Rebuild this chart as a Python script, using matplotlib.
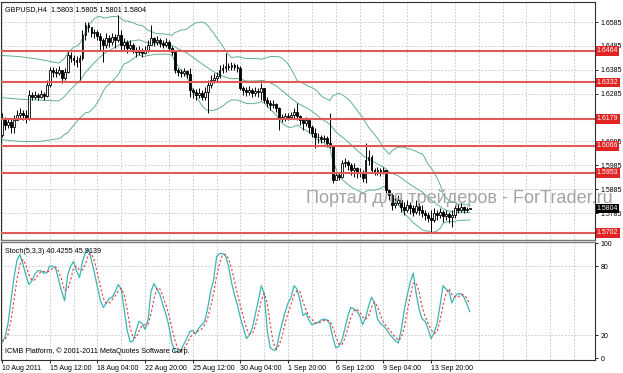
import numpy as np
import pandas as pd
import matplotlib
matplotlib.use("Agg")
import matplotlib.pyplot as plt
from matplotlib.transforms import blended_transform_factory

# GBPUSD H4 prices, stored in pips (1.6183 -> 16183)
first_open = 16112
closes = [
    16183, 16153, 16166, 16145, 16174, 16195, 16204, 16195, 16183, 16279,
    16271, 16279, 16271, 16283, 16275, 16321, 16384, 16375, 16371, 16384,
    16350, 16375, 16447, 16434, 16426, 16417, 16434, 16531, 16572, 16564,
    16539, 16543, 16526, 16510, 16489, 16518, 16501, 16522, 16510, 16531,
    16489, 16501, 16476, 16489, 16468, 16459, 16468, 16455, 16468, 16489,
    16518, 16501, 16510, 16497, 16489, 16501, 16476, 16459, 16384, 16375,
    16371, 16380, 16367, 16300, 16292, 16279, 16288, 16271, 16292, 16321,
    16342, 16350, 16359, 16384, 16392, 16401, 16396, 16405, 16396, 16392,
    16308, 16300, 16292, 16300, 16288, 16296, 16292, 16308, 16258, 16246,
    16237, 16242, 16225, 16187, 16183, 16191, 16187, 16195, 16208, 16191,
    16174, 16162, 16174, 16145, 16120, 16103, 16103, 16095, 16099, 16078,
    16070, 15923, 15944, 15936, 15994, 15998, 15986, 15965, 15973, 15952,
    15957, 15931, 16007, 16019, 15965, 15957, 15965, 15957, 15965, 15881,
    15860, 15818, 15827, 15839, 15810, 15797, 15818, 15806, 15789, 15814,
    15797, 15785, 15776, 15764, 15756, 15785, 15776, 15789, 15772, 15781,
    15768, 15776, 15806, 15797, 15810, 15797, 15803, 15804,
]
highs = [
    16204, 16187, 16183, 16183, 16195, 16216, 16225, 16216, 16216, 16300,
    16292, 16296, 16288, 16300, 16292, 16342, 16396, 16396, 16392, 16401,
    16384, 16392, 16468, 16459, 16447, 16443, 16447, 16551, 16585, 16585,
    16560, 16556, 16551, 16539, 16518, 16539, 16531, 16539, 16535, 16614,
    16551, 16518, 16510, 16510, 16497, 16480, 16484, 16476, 16484, 16510,
    16572, 16522, 16526, 16518, 16510, 16518, 16510, 16484, 16468, 16392,
    16388, 16392, 16384, 16392, 16308, 16304, 16308, 16300, 16313, 16342,
    16363, 16371, 16375, 16405, 16409, 16455, 16413, 16417, 16413, 16409,
    16401, 16317, 16313, 16317, 16308, 16313, 16308, 16329, 16308, 16271,
    16258, 16258, 16246, 16229, 16200, 16204, 16204, 16208, 16225, 16246,
    16195, 16183, 16187, 16166, 16153, 16141, 16120, 16112, 16112, 16107,
    16204, 16070, 15957, 15957, 16007, 16015, 16007, 15994, 15994, 15978,
    15973, 15965, 16078, 16049, 16028, 15973, 15978, 15973, 15978, 15965,
    15881, 15868, 15848, 15860, 15848, 15831, 15839, 15831, 15818, 15839,
    15827, 15818, 15797, 15789, 15797, 15806, 15797, 15806, 15797, 15797,
    15789, 15797, 15818, 15822, 15827, 15814, 15812, 15805,
]
lows = [
    16103, 16133, 16141, 16120, 16120, 16174, 16183, 16174, 16162, 16174,
    16258, 16262, 16258, 16267, 16258, 16271, 16313, 16355, 16355, 16363,
    16329, 16342, 16371, 16417, 16405, 16396, 16342, 16426, 16510, 16543,
    16522, 16518, 16510, 16468, 16417, 16476, 16480, 16489, 16476, 16501,
    16468, 16468, 16455, 16468, 16455, 16438, 16447, 16438, 16451, 16459,
    16497, 16484, 16489, 16480, 16476, 16480, 16468, 16447, 16371, 16359,
    16355, 16359, 16350, 16271, 16267, 16258, 16267, 16258, 16258, 16204,
    16308, 16329, 16334, 16350, 16371, 16375, 16384, 16384, 16384, 16375,
    16300, 16279, 16275, 16279, 16271, 16275, 16271, 16258, 16246, 16229,
    16216, 16225, 16208, 16133, 16166, 16170, 16174, 16179, 16183, 16174,
    16153, 16133, 16149, 16120, 16103, 16057, 16078, 16078, 16082, 16061,
    16057, 15910, 15923, 15923, 15931, 15978, 15965, 15944, 15936, 15931,
    15936, 15915, 15910, 15986, 15957, 15944, 15944, 15940, 15948, 15868,
    15839, 15797, 15806, 15818, 15789, 15776, 15789, 15781, 15772, 15781,
    15776, 15768, 15756, 15747, 15701, 15747, 15756, 15764, 15747, 15756,
    15743, 15726, 15764, 15785, 15789, 15785, 15789, 15801,
]
# Bollinger band values read at the left edge, before 20 bars of history are on screen
band_lead_bars = [0, 6, 12]
band_lead_upper = [16445, 16440, 16430]
band_lead_mid = [16268, 16262, 16258]
band_lead_lower = [16092, 16085, 16084]

stoch_k = [
    14, 18, 30, 50, 70, 85, 90, 82, 72, 64,
    67, 73, 76, 76, 74, 74, 80, 80, 78, 68,
    58, 50, 72, 80, 84, 76, 70, 84, 92, 95,
    85, 74, 62, 50, 44, 48, 52, 53, 58, 64,
    60, 42, 24, 14, 15, 24, 32, 30, 25, 33,
    58, 65, 60, 55, 46, 38, 28, 13, 6, 5,
    7, 12, 17, 23, 24, 21, 26, 29, 32, 43,
    58, 68, 88, 91, 91, 89, 80, 66, 55, 46,
    35, 26, 17, 20, 26, 38, 50, 63, 56, 24,
    9, 7, 7, 20, 30, 40, 48, 53, 63, 60,
    50, 37, 39, 33, 29, 30, 31, 33, 34, 33,
    30, 18, 9, 10, 15, 25, 36, 44, 43, 41,
    37, 29, 35, 45, 53, 48, 34, 30, 28, 25,
    21, 18, 15, 13, 25, 42, 55, 66, 74, 56,
    42, 34, 32, 25, 17, 22, 30, 46, 63, 60,
    58, 48, 54, 56, 56, 53, 47, 40.4255,
]
stoch_main, stoch_signal = 40.4255, 45.9139
levels = [1.6464, 1.6332, 1.6179, 1.6066, 1.5953, 1.5702]
price_ticks = [1.6585, 1.6485, 1.6385, 1.6285, 1.6185, 1.6085, 1.5985, 1.5885, 1.5785]
hidden_ticks = [1.6185]  # covered by the 1.6179 level tag
date_labels = ["10 Aug 2011", "15 Aug 12:00", "18 Aug 04:00", "22 Aug 20:00",
               "25 Aug 12:00", "30 Aug 04:00", "1 Sep 20:00", "6 Sep 12:00",
               "9 Sep 04:00", "13 Sep 20:00"]

FONT = "Liberation Sans"
GRID = dict(color="#c4c4c4", linestyle=(0, (2, 2)), linewidth=0.6, zorder=0)

c = np.array(closes) / 1e4
h = np.array(highs) / 1e4
l = np.array(lows) / 1e4
o = np.r_[first_open / 1e4, c[:-1]]
x = np.arange(len(c))

fig = plt.figure(figsize=(6.23, 3.73), dpi=100)
ax = fig.add_axes([1 / 623, 133 / 373, 594 / 623, 238 / 373])
ax2 = fig.add_axes([1 / 623, 13 / 373, 594 / 623, 118 / 373])

# main price panel
for gx in range(0, 200, 8):
    ax.axvline(gx, **GRID)
    ax2.axvline(gx, **GRID)
for gy in price_ticks:
    ax.axhline(gy, **GRID)

s = pd.Series(c)
mid = s.rolling(20).mean()
sd = s.rolling(20).std(ddof=0)
start = 19
for lead, band in ((band_lead_upper, mid + 2 * sd), (band_lead_mid, mid),
                   (band_lead_lower, mid - 2 * sd)):
    bx = np.r_[band_lead_bars, x[start:]]
    by = np.r_[np.array(lead) / 1e4, band.values[start:]]
    ax.plot(bx, by, color="#5fb38c", lw=0.7, zorder=2)

ax.vlines(x, l, h, color="black", lw=0.7, zorder=3)
up = c >= o
ax.bar(x[up], (c - o)[up], bottom=o[up], width=0.62, color="white",
       edgecolor="black", linewidth=0.6, zorder=4)
ax.bar(x[~up], (o - c)[~up], bottom=c[~up], width=0.62, color="black",
       edgecolor="black", linewidth=0.6, zorder=4)

for lv in levels:
    ax.axhline(lv, color="#e05a5a", lw=1.5, zorder=5)

ax.set_xlim(-0.35, 199)
ax.set_ylim(1.5672, 1.6669)
ax.set_xticks([])
ax.yaxis.tick_right()
ax.set_yticks(price_ticks)
ax.set_yticklabels(["" if t in hidden_ticks else f"{t:.4f}" for t in price_ticks],
                   fontname=FONT)
ax.tick_params(axis="y", length=2, width=0.6, labelsize=5, pad=2)

tr = blended_transform_factory(ax.transAxes, ax.transData)
for lv in levels:
    ax.text(1.003, lv, f"{lv:.4f}", transform=tr, ha="left", va="center",
            fontsize=5, fontname=FONT, color="white", clip_on=False, zorder=6,
            bbox=dict(boxstyle="square,pad=0.18", fc="#e02424", ec="none"))
ax.text(1.003, c[-1], f"{c[-1]:.4f}", transform=tr, ha="left", va="center",
        fontsize=5, fontname=FONT, color="white", clip_on=False, zorder=6,
        bbox=dict(boxstyle="square,pad=0.18", fc="black", ec="none"))

ax.text(0.006, 0.985, "GBPUSD,H4  1.5803 1.5805 1.5801 1.5804", transform=ax.transAxes,
        ha="left", va="top", fontsize=5.2, fontname=FONT)
ax.text(0.513, 0.155, "Портал для трейдеров - ForTrader.ru", transform=ax.transAxes,
        ha="left", va="baseline", fontsize=13.1, fontname=FONT, color="#a4a4a4",
        clip_on=False, zorder=7)

# stochastic panel
k = pd.Series(stoch_k, dtype=float)
d = k.rolling(3, min_periods=1).mean()
for gy in (20, 80):
    ax2.axhline(gy, **GRID)
ax2.plot(x, k, color="#3bb5b5", lw=0.9, zorder=3)
ax2.plot(x, d, color="#e03a3a", lw=0.8, linestyle=(0, (2, 2)), zorder=3)
ax2.set_xlim(-0.35, 199)
ax2.set_ylim(-1.7, 101)
ax2.yaxis.tick_right()
ax2.set_yticks([0, 20, 80, 100])
ax2.set_yticklabels(["0", "20", "80", "100"], fontname=FONT)
ax2.tick_params(axis="y", length=2, width=0.6, labelsize=5, pad=2)
ax2.set_xticks(range(0, 16 * len(date_labels), 16))
ax2.set_xticklabels(date_labels, fontname=FONT, ha="left")
ax2.tick_params(axis="x", length=2, width=0.6, labelsize=5, pad=1.5)
ax2.text(0.006, 0.95, f"Stoch(5,3,3) {stoch_main:.4f} {stoch_signal:.4f}",
         transform=ax2.transAxes, ha="left", va="top", fontsize=5.2, fontname=FONT)
ax2.text(0.006, 0.04, "ICMB Platform, © 2001-2011 MetaQuotes Software Corp.",
         transform=ax2.transAxes, ha="left", va="bottom", fontsize=5.2, fontname=FONT)

for a in (ax, ax2):
    for sp in a.spines.values():
        sp.set_color("#303030")
        sp.set_linewidth(0.8)
ax.spines["bottom"].set_color("#7a7a7a")
ax.spines["bottom"].set_linewidth(1.0)
ax2.spines["top"].set_color("#7a7a7a")
ax2.spines["top"].set_linewidth(1.0)

fig.savefig("out.png", dpi=100, facecolor="white")
